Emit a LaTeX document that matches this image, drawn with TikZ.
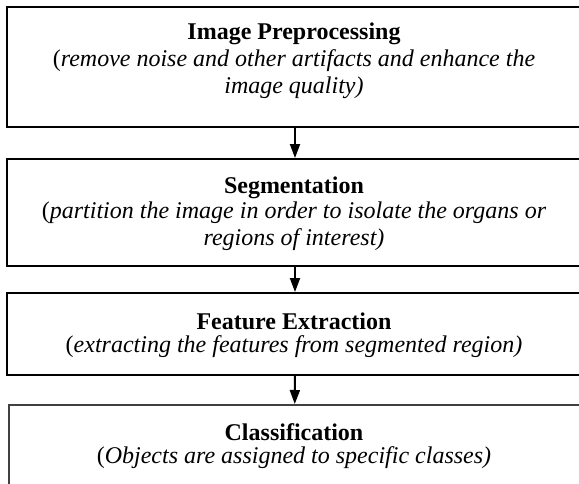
\documentclass[tikz,border=0pt]{standalone}
\usepackage{fontspec}
\setmainfont{Liberation Serif}
\usetikzlibrary{arrows.meta}
\tikzset{
  stagebox/.style={draw=black, line width=2pt, rectangle, inner sep=0pt, anchor=north west},
  lastbox/.style={draw=black!75, line width=1.5pt, rectangle, inner sep=0pt, anchor=north west},
  titletext/.style={font=\fontsize{24}{26.5}\selectfont\bfseries, inner sep=0pt},
  desctext/.style={font=\fontsize{24}{26.5}\selectfont\itshape, inner sep=0pt, align=center},
  flowarrow/.style={line width=2pt, -{Triangle[width=10pt,length=14pt]}},
}
\begin{document}
\begin{tikzpicture}[x=1pt,y=-1pt]
\useasboundingbox (0,0) rectangle (579,483);
\clip (0,0) rectangle (579,483);
\node[stagebox, minimum width=576pt, minimum height=120pt] (b1) at (6,6) {};
\node[stagebox, minimum width=576pt, minimum height=107pt] (b2) at (6,158) {};
\node[stagebox, minimum width=576pt, minimum height=82pt] (b3) at (6,292) {};
\node[lastbox, minimum width=572pt, minimum height=110pt] (b4) at (8,404) {};

\node[titletext] (t1) at (294,34) {Image Preprocessing};
\node[desctext] (d1) at (294,74) {\textup{(}remove noise and other artifacts and enhance the\\image quality)};
\node[titletext] (t2) at (294,188) {Segmentation};
\node[desctext] (d2) at (294,226) {\textup{(}partition the image in order to isolate the organs or\\regions of interest)};
\node[titletext] (t3) at (294,321) {Feature Extraction};
\node[desctext] (d3) at (294,347) {\textup{(}extracting the features from segmented region)};
\node[titletext] (t4) at (294,432) {Classification};
\node[desctext] (d4) at (294,458) {\textup{(}Objects are assigned to specific classes)};

\draw[flowarrow] (b1.south) -- (b2.north);
\draw[flowarrow] (b2.south) -- (b3.north);
\draw[flowarrow] (b3.south) -- (b4.north);
\end{tikzpicture}
\end{document}
